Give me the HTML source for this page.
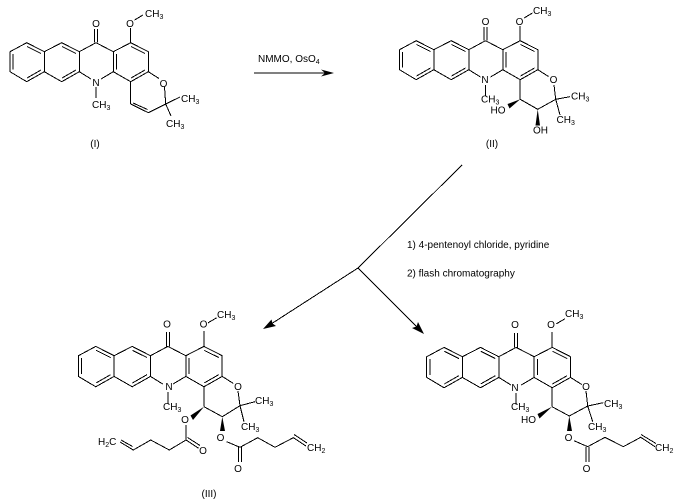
<!DOCTYPE html>
<html><head><meta charset="utf-8"><style>
html,body{margin:0;padding:0;background:#fff}
svg{display:block}
text{font-family:"Liberation Sans",sans-serif;font-size:10px;fill:#000}
.m{text-anchor:middle}
line,polyline{stroke:#000;stroke-width:1;fill:none;shape-rendering:crispEdges;vector-effect:non-scaling-stroke}
.f{fill:#000;stroke:none}
</style></head><body>
<svg width="678" height="500" viewBox="0 0 678 500" xmlns="http://www.w3.org/2000/svg">
<defs><g id="s">
<polyline points="10,51.7 26.7,42.7 44.3,51.7 61.7,42.7 79.3,51.7 96,42.7 113.3,51.7 130.7,42.7 148.3,51.7 148.3,71.7 130.7,81.7 113.3,71.7 101,79"/>
<polyline points="10,51.7 10,71.7 26.7,81.7 44.3,71.7 61.7,81.7 79.3,71.7 91,79"/>
<line x1="44.3" y1="51.7" x2="44.3" y2="71.7"/>
<line x1="79.3" y1="51.7" x2="79.3" y2="71.7"/>
<line x1="113.3" y1="51.7" x2="113.3" y2="71.7"/>
<line x1="13" y1="54" x2="13" y2="69.5"/>
<line x1="27" y1="46.5" x2="41" y2="53.5"/>
<line x1="27" y1="78" x2="41" y2="70"/>
<line x1="62" y1="46.5" x2="76" y2="53.5"/>
<line x1="62" y1="78" x2="76" y2="70"/>
<line x1="116.5" y1="54" x2="116.5" y2="69.5"/>
<line x1="131" y1="46.5" x2="145" y2="53.5"/>
<line x1="131" y1="78" x2="145" y2="70"/>
<line x1="94.5" y1="42.7" x2="94.5" y2="29"/>
<line x1="97.5" y1="42.7" x2="97.5" y2="29"/>
<line x1="130.7" y1="42.7" x2="130.7" y2="28"/>
<line x1="134.5" y1="20" x2="143" y2="15"/>
<line x1="96" y1="87" x2="96" y2="98"/>
<line x1="148.3" y1="71.7" x2="159" y2="78.5"/>
</g></defs>

<!-- I -->
<use href="#s"/>
<line x1="130.7" y1="81.7" x2="130.7" y2="104"/>
<line x1="164.5" y1="87" x2="165.7" y2="104"/>
<line x1="165.7" y1="104" x2="148.3" y2="112.7"/>
<line x1="148.3" y1="112.7" x2="130.7" y2="104"/>
<line x1="133" y1="103" x2="147.5" y2="109.5"/>
<line x1="165.7" y1="104" x2="180" y2="97"/>
<line x1="165.7" y1="104" x2="171" y2="116"/>
<text class="m" x="96" y="27">O</text>
<text class="m" x="130" y="27">O</text>
<text x="145" y="17">CH<tspan font-size="7" dy="2">3</tspan></text>
<text class="m" x="96" y="86">N</text>
<text x="92" y="108">CH<tspan font-size="7" dy="2">3</tspan></text>
<text class="m" x="163.5" y="87">O</text>
<text x="181" y="102">CH<tspan font-size="7" dy="2">3</tspan></text>
<text x="166" y="127">CH<tspan font-size="7" dy="2">3</tspan></text>
<text class="m" x="95" y="147">(I)</text>

<!-- arrow 1 -->
<text x="258" y="62">NMMO, OsO<tspan font-size="7" dy="2">4</tspan></text>
<line x1="254" y1="73" x2="330" y2="73"/>
<polygon class="f" points="334,73 321,69.5 325,73 321,76.5"/>

<!-- II -->
<use href="#s" transform="translate(389.5,-2)"/>
<line x1="520.2" y1="79.7" x2="520.2" y2="99.3"/>
<polyline points="520.2,99.3 537.7,109.3 555.7,99.3 554,85"/>
<line x1="555.7" y1="99.3" x2="570" y2="96.7"/>
<line x1="555.7" y1="99.3" x2="560" y2="115"/>
<polygon class="f" points="520.2,99.3 507.5,104 509.5,108.5"/>
<polygon class="f" points="537.7,109.3 535.5,125.5 540,125.5"/>
<text class="m" x="485.5" y="25">O</text>
<text class="m" x="519.5" y="25">O</text>
<text x="533" y="14">CH<tspan font-size="7" dy="2">3</tspan></text>
<text class="m" x="485" y="83">N</text>
<text x="481" y="102.5">CH<tspan font-size="7" dy="2">3</tspan></text>
<text class="m" x="553.5" y="83">O</text>
<text x="571" y="99.5">CH<tspan font-size="7" dy="2">3</tspan></text>
<text x="556.5" y="123">CH<tspan font-size="7" dy="2">3</tspan></text>
<text x="490.5" y="113.5">HO</text>
<text x="533" y="133.5">OH</text>
<text class="m" x="492" y="147">(II)</text>

<!-- branch arrows -->
<polyline points="462,165 358,268 268,326"/>
<line x1="358" y1="268" x2="420" y2="330"/>
<polygon class="f" points="263,329 276,326 272.5,323.5 271.5,319.5"/>
<polygon class="f" points="424,334 418,322 416.5,326.5 412,328"/>
<text x="407" y="248">1) 4-pentenoyl chloride, pyridine</text>
<text x="407" y="276.5">2) flash chromatography</text>

<!-- III -->
<use href="#s" transform="translate(68,302.2) scale(1.04,1.035)"/>
<line x1="204" y1="386.8" x2="204" y2="406.7"/>
<polyline points="204,406.7 222.3,416.7 240,405.7 238,391"/>
<line x1="240" y1="405.7" x2="255" y2="401.7"/>
<line x1="240" y1="405.7" x2="244" y2="421.7"/>
<polygon class="f" points="204,406.7 190.5,415.5 193,420"/>
<polygon class="f" points="222.3,416.7 220,431 225,431"/>
<polyline points="186,425 186,440 169.3,450 150.7,440 133.3,450 120,442"/>
<line x1="132.5" y1="446.5" x2="121" y2="440"/>
<line x1="186" y1="440" x2="198.7" y2="448.3"/>
<line x1="187.5" y1="437.5" x2="200" y2="445.5"/>
<polyline points="226.7,441.7 240,447.3 257.7,437.7 275,447.3 293.3,437.7 306,446"/>
<line x1="294" y1="434.5" x2="307" y2="443"/>
<line x1="238.5" y1="447" x2="238.5" y2="462"/>
<line x1="241.5" y1="447" x2="241.5" y2="462"/>
<text class="m" x="167" y="327.5">O</text>
<text class="m" x="203.5" y="327.5">O</text>
<text x="217" y="318">CH<tspan font-size="7" dy="2">3</tspan></text>
<text class="m" x="169" y="390">N</text>
<text x="163" y="410">CH<tspan font-size="7" dy="2">3</tspan></text>
<text class="m" x="238" y="390">O</text>
<text x="255" y="404">CH<tspan font-size="7" dy="2">3</tspan></text>
<text x="241" y="430">CH<tspan font-size="7" dy="2">3</tspan></text>
<text class="m" x="185" y="423">O</text>
<text class="m" x="220.5" y="441">O</text>
<text class="m" x="203" y="454">O</text>
<text class="m" x="238" y="472">O</text>
<text x="98" y="445">H<tspan font-size="7" dy="2">2</tspan><tspan dy="-2">C</tspan></text>
<text x="307" y="451">CH<tspan font-size="7" dy="2">2</tspan></text>
<text class="m" x="209" y="497">(III)</text>

<!-- IV -->
<use href="#s" transform="translate(416.3,303.2) scale(1.04,1.035)"/>
<line x1="552" y1="387.8" x2="552" y2="406.7"/>
<polyline points="552,406.7 569.3,416 587.7,406 586,391"/>
<line x1="587.7" y1="406" x2="603.3" y2="402.7"/>
<line x1="587.7" y1="406" x2="592.7" y2="421.7"/>
<polygon class="f" points="552,406.7 537.5,414 539.5,418.5"/>
<polygon class="f" points="569.3,416 567,431 572,431"/>
<polyline points="574,440.7 587.7,446.7 605,437.3 623.3,446.7 640.7,437.3 655,446.7"/>
<line x1="641" y1="434.5" x2="656" y2="443.5"/>
<line x1="586.2" y1="447" x2="586.2" y2="462"/>
<line x1="589.2" y1="447" x2="589.2" y2="462"/>
<text class="m" x="515" y="328">O</text>
<text class="m" x="551" y="328">O</text>
<text x="565" y="317">CH<tspan font-size="7" dy="2">3</tspan></text>
<text class="m" x="515" y="391">N</text>
<text x="511" y="410">CH<tspan font-size="7" dy="2">3</tspan></text>
<text class="m" x="586" y="390">O</text>
<text x="604" y="407">CH<tspan font-size="7" dy="2">3</tspan></text>
<text x="588" y="430">CH<tspan font-size="7" dy="2">3</tspan></text>
<text x="521" y="423">HO</text>
<text class="m" x="568.5" y="441">O</text>
<text class="m" x="586.5" y="472">O</text>
<text x="655" y="451">CH<tspan font-size="7" dy="2">2</tspan></text>
</svg>
</body></html>
